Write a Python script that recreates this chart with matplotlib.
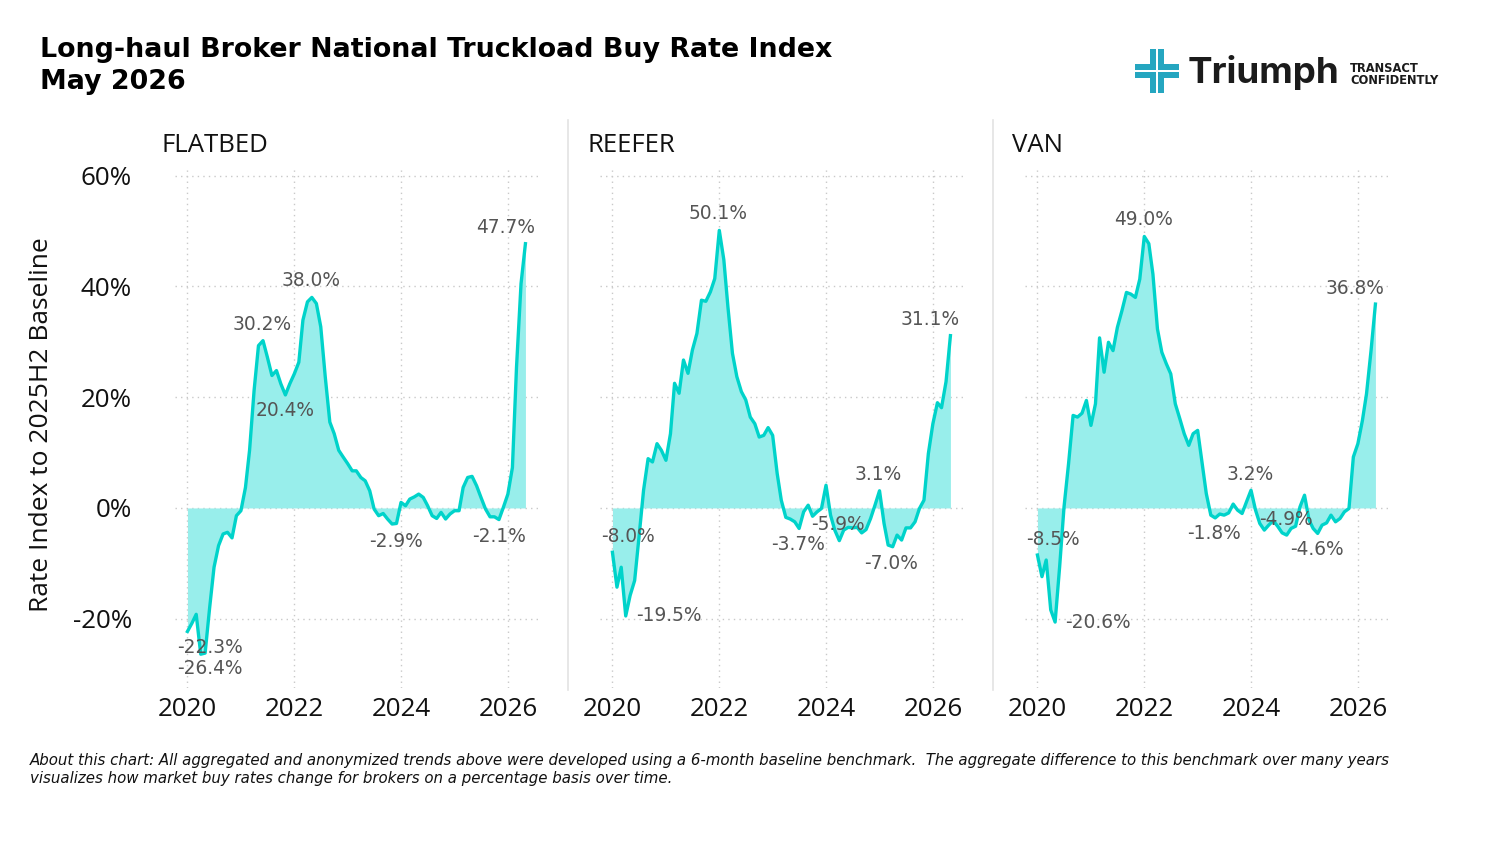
import matplotlib
matplotlib.use("Agg")
import matplotlib.pyplot as plt
import matplotlib.patches as mpatches
import matplotlib.dates as mdates
from matplotlib.ticker import FuncFormatter, FixedLocator
import pandas as pd
import numpy as np

# ---------------- data ----------------
months = pd.date_range("2020-01-01", "2026-05-01", freq="MS")

flatbed = [-22.3, -20.8, -19.2, -26.4, -26.2, -18.0, -10.7, -6.8, -4.7, -4.4,
           -5.4, -1.4, -0.5, 3.7, 10.4, 21.2, 29.3, 30.2, 27.2, 23.9,
           24.8, 22.4, 20.4, 22.4, 24.2, 26.3, 33.9, 37.2, 38.0, 36.9,
           32.7, 23.6, 15.5, 13.4, 10.4, 9.2, 8.0, 6.7, 6.7, 5.5,
           4.9, 3.1, -0.2, -1.4, -1.0, -2.0, -2.9, -2.8, 1.0, 0.4,
           1.6, 2.0, 2.5, 1.9, 0.4, -1.4, -1.9, -0.8, -2.0, -1.1,
           -0.5, -0.5, 3.7, 5.5, 5.7, 4.0, 1.9, -0.2, -1.6, -1.6,
           -2.1, 0.1, 2.5, 7.3, 25.4, 40.5, 47.7]

reefer = [-8.0, -14.3, -10.7, -19.5, -15.8, -13.1, -5.2, 3.2, 8.9, 8.3,
          11.6, 10.4, 8.6, 13.4, 22.5, 20.7, 26.7, 24.3, 28.5, 31.5,
          37.5, 37.3, 39.0, 41.4, 50.1, 44.8, 36.3, 27.9, 23.7, 21.0,
          19.5, 16.4, 15.2, 12.8, 13.1, 14.5, 13.1, 6.2, 1.4, -1.7,
          -2.0, -2.5, -3.7, -0.7, 0.5, -1.5, -0.7, -0.1, 4.1, -1.3,
          -4.0, -5.9, -4.0, -3.5, -3.6, -3.5, -4.5, -3.9, -1.9, 0.5,
          3.1, -2.8, -6.7, -7.0, -4.9, -5.8, -3.6, -3.6, -2.5, -0.1,
          1.4, 9.8, 15.2, 19.0, 18.1, 22.8, 31.1]

van = [-8.5, -12.4, -9.4, -18.4, -20.6, -10.6, 0.2, 8.0, 16.7, 16.4,
       17.1, 19.4, 14.9, 18.8, 30.7, 24.5, 29.9, 28.4, 32.6, 35.6,
       38.9, 38.6, 38.0, 41.3, 49.0, 47.7, 42.2, 32.3, 28.1, 26.0,
       24.2, 18.8, 16.1, 13.4, 11.3, 13.4, 14.0, 8.0, 2.6, -1.3,
       -1.8, -1.1, -1.3, -0.9, 0.7, -0.4, -1.0, 1.1, 3.2, -0.4,
       -2.8, -4.0, -3.1, -2.3, -3.3, -4.5, -4.9, -3.7, -3.3, 0.2,
       2.3, -2.2, -3.7, -4.6, -3.1, -2.7, -1.3, -2.5, -1.9, -0.7,
       -0.1, 9.2, 11.6, 15.8, 20.6, 28.4, 36.8]

panel_names = ["FLATBED", "REEFER", "VAN"]
series = [flatbed, reefer, van]
y_ticks = [-20, 0, 20, 40, 60]
x_tick_years = [2020, 2022, 2024, 2026]

# labelled points: (month index, dx px, dy px)
label_specs = [
    [(0, 23, -16.5), (3, 9, -14), (17, -1, 16.5), (28, -1, 16.5), (22, 0, -16),
     (46, 4, -17), (70, 0, -16.5), (76, -20, 16.5)],
    [(0, 16, 16), (3, 43, 0), (24, -1, 16.5), (42, -1, -16.5), (51, -1, 16.5),
     (60, -1, 16), (63, -2, -16.5), (76, -20, 16)],
    [(0, 16, 16), (4, 43, 0), (24, -1, 16.5), (40, -1, -16), (48, -1, 16),
     (56, -1, 16), (63, -1, -16.5), (76, -20, 16)],
]

# ---------------- style ----------------
W, H = 1488, 857
LINE = "#00D3CA"
FILL = "#98EEEB"
GRID = "#c9c9c9"
TICKFONT = "Open Sans"

fig = plt.figure(figsize=(W / 100, H / 100), dpi=100)
fig.patch.set_facecolor("white")

def px2pt(v):
    return v * 72 / 100

ax_lefts = [175, 600, 1025]
ax_w = 363
ax_top, ax_bot = 170, 688
xmin = pd.Timestamp("2019-10-08")
xmax = pd.Timestamp("2026-07-26")

axes = []
for k, (name, vals) in enumerate(zip(panel_names, series)):
    ax = fig.add_axes([ax_lefts[k] / W, 1 - ax_bot / H, ax_w / W, (ax_bot - ax_top) / H])
    axes.append(ax)
    v = np.array(vals)
    ax.fill_between(months, 0, v, color=FILL, lw=0, zorder=2)
    ax.plot(months, v, color=LINE, lw=2.4, zorder=3, solid_joinstyle="round")
    ax.set_xlim(xmin, xmax)
    ax.set_ylim(-32.5, 61)
    ax.set_yticks(y_ticks)
    ax.xaxis.set_major_locator(FixedLocator([mdates.date2num(pd.Timestamp(f"{y}-01-01")) for y in x_tick_years]))
    ax.xaxis.set_major_formatter(mdates.DateFormatter("%Y"))
    ax.grid(True, color=GRID, ls=(0, (1, 3)), lw=1.0, zorder=0)
    for s in ax.spines.values():
        s.set_visible(False)
    ax.tick_params(length=0, labelsize=18.7, colors="#111111")
    ax.tick_params(axis="x", pad=6.5)
    for lab in ax.get_xticklabels():
        lab.set_fontfamily(TICKFONT)
    if k == 0:
        ax.yaxis.set_major_formatter(FuncFormatter(lambda val, p: f"{val:.0f}%"))
        ax.tick_params(axis="y", pad=31)
        for lab in ax.get_yticklabels():
            lab.set_fontfamily(TICKFONT)
    else:
        ax.set_yticklabels([])
    ax.set_facecolor("none")

    for idx, dx, dy in label_specs[k]:
        ax.annotate(f"{vals[idx]:.1f}%", xy=(months[idx], vals[idx]),
                    xytext=(px2pt(dx), px2pt(dy)), textcoords="offset points",
                    ha="center", va="center", fontsize=13.4, color="#555555",
                    family="DejaVu Sans", zorder=5)

    fig.text((ax_lefts[k] - 13) / W, 1 - 146 / H, name, ha="left", va="center",
             fontsize=18.5, family=TICKFONT, color="#111111")

# separators
for xs in [568, 993]:
    fig.add_artist(plt.Line2D([xs / W, xs / W], [1 - 120 / H, 1 - 690 / H],
                              color="#e3e3e3", lw=1.2))

# y label
fig.text(42 / W, 1 - 425 / H, "Rate Index to 2025H2 Baseline", rotation=90,
         ha="center", va="center", fontsize=19, family=TICKFONT, color="#111111")

# title
fig.text(40 / W, 1 - 50 / H, "Long-haul Broker National Truckload Buy Rate Index",
         ha="left", va="center", fontsize=19.4, fontweight="bold", family="DejaVu Sans")
fig.text(40 / W, 1 - 82 / H, "May 2026",
         ha="left", va="center", fontsize=19.4, fontweight="bold", family="DejaVu Sans")

# footnote
fig.text(30 / W, 1 - 760 / H,
         "About this chart: All aggregated and anonymized trends above were developed using a 6-month baseline benchmark.  "
         "The aggregate difference to this benchmark over many years",
         ha="left", va="center", fontsize=10.85, style="italic", family="DejaVu Sans", color="#111111")
fig.text(30 / W, 1 - 778 / H,
         "visualizes how market buy rates change for brokers on a percentage basis over time.",
         ha="left", va="center", fontsize=10.85, style="italic", family="DejaVu Sans", color="#111111")

# logo
LOGO = "#25A6C0"
cx, cy = 1157, 71
arm, half = 22, 7
gap = 1.2
for (x0, y0, w, h) in [(cx - half, cy - arm, 2 * half, 2 * arm), (cx - arm, cy - half, 2 * arm, 2 * half)]:
    fig.add_artist(mpatches.Rectangle((x0 / W, 1 - (y0 + h) / H), w / W, h / H,
                                      transform=fig.transFigure, color=LOGO, lw=0))
fig.add_artist(mpatches.Rectangle(((cx - gap) / W, 1 - (cy + arm + 1) / H), 2 * gap / W, (2 * arm + 2) / H,
                                  transform=fig.transFigure, color="white", lw=0))
fig.add_artist(mpatches.Rectangle(((cx - arm - 1) / W, 1 - (cy + gap) / H), (2 * arm + 2) / W, 2 * gap / H,
                                  transform=fig.transFigure, color="white", lw=0))
fig.text(1188 / W, 1 - 72 / H, "Triumph", ha="left", va="center", fontsize=26.5,
         fontweight="bold", family="Inter", color="#1b1b1b")
fig.text(1350 / W, 1 - 68 / H, "TRANSACT", ha="left", va="center", fontsize=8.3,
         fontweight="bold", family="DejaVu Sans", color="#1b1b1b")
fig.text(1350 / W, 1 - 80 / H, "CONFIDENTLY", ha="left", va="center", fontsize=8.3,
         fontweight="bold", family="DejaVu Sans", color="#1b1b1b")

fig.savefig("out.png", dpi=100, facecolor="white")
